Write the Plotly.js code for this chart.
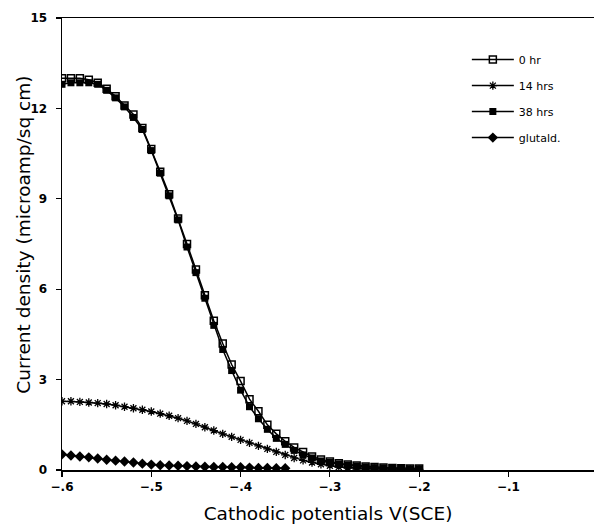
<!DOCTYPE html>
<html>
<head>
<meta charset="utf-8">
<script src="https://cdn.plot.ly/plotly-3.0.1.min.js"></script>
<style>html,body{margin:0;padding:0;background:#fff;}#chart{width:594px;height:525px;}</style>
</head>
<body>
<div id="chart"></div>
<script>
// Cathodic potential grid, V(SCE)
const potentials = [-0.60,-0.59,-0.58,-0.57,-0.56,-0.55,-0.54,-0.53,-0.52,-0.51,
  -0.50,-0.49,-0.48,-0.47,-0.46,-0.45,-0.44,-0.43,-0.42,-0.41,
  -0.40,-0.39,-0.38,-0.37,-0.36,-0.35,-0.34,-0.33,-0.32,-0.31,
  -0.30,-0.29,-0.28,-0.27,-0.26,-0.25,-0.24,-0.23,-0.22,-0.21,-0.20];
const potentialsGlut = [-0.60,-0.59,-0.58,-0.57,-0.56,-0.55,-0.54,-0.53,-0.52,-0.51,
  -0.50,-0.49,-0.48,-0.47,-0.46,-0.45,-0.44,-0.43,-0.42,-0.41,
  -0.40,-0.39,-0.38,-0.37,-0.36,-0.35];

// Current density, microamp/sq cm
const hr0 = [13.0,13.0,13.0,12.95,12.85,12.65,12.4,12.1,11.8,11.35,
  10.65,9.9,9.15,8.35,7.5,6.65,5.8,4.95,4.2,3.5,
  2.95,2.35,1.95,1.5,1.2,0.95,0.75,0.6,0.45,0.35,
  0.28,0.22,0.18,0.15,0.12,0.1,0.08,0.07,0.06,0.05,0.05];
const hrs14 = [2.28,2.28,2.26,2.24,2.22,2.19,2.15,2.1,2.05,2.0,
  1.94,1.87,1.8,1.72,1.63,1.53,1.42,1.31,1.2,1.1,
  1.0,0.9,0.8,0.7,0.6,0.5,0.4,0.32,0.25,0.19,
  0.14,0.1,0.08,0.06,0.05,0.04,0.03,0.03,0.02,0.02,0.02];
const hrs38 = [12.8,12.85,12.85,12.85,12.8,12.6,12.35,12.05,11.7,11.3,
  10.6,9.85,9.1,8.3,7.4,6.55,5.7,4.8,4.0,3.3,
  2.65,2.1,1.7,1.35,1.05,0.85,0.65,0.5,0.4,0.3,
  0.25,0.2,0.16,0.13,0.1,0.08,0.07,0.06,0.05,0.04,0.04];
const glutald = [0.52,0.48,0.45,0.42,0.38,0.34,0.31,0.28,0.25,0.21,
  0.18,0.16,0.15,0.14,0.13,0.12,0.11,0.1,0.1,0.09,
  0.09,0.08,0.07,0.07,0.06,0.06];

const seriesNames = ["0 hr","14 hrs","38 hrs","glutald."];
const xTickVals = [-0.6,-0.5,-0.4,-0.3,-0.2,-0.1];
const xTickText = ["\u2212.6","\u2212.5","\u2212.4","\u2212.3","\u2212.2","\u2212.1"];
const yTickVals = [0,3,6,9,12,15];
const yTitle = "Current density (microamp/sq cm)";
const xTitle = "Cathodic potentials V(SCE)";

const FONT = "DejaVu Sans, Verdana, sans-serif";
const line = {color:"#000", width:1.5};

const traces = [
  {x:potentials, y:hr0, name:seriesNames[0], mode:"lines+markers", legendgroup:"a",
   line:line, marker:{symbol:"square-open", size:7, color:"#000", line:{width:1.5,color:"#000"}}},
  {x:potentials, y:hrs14, name:seriesNames[1], mode:"lines+markers", legendgroup:"b",
   line:line, marker:{symbol:"asterisk-open", size:7, color:"#000", line:{width:1.3,color:"#000"}}},
  {x:potentials, y:hrs38, name:seriesNames[2], mode:"lines+markers", legendgroup:"c",
   line:line, marker:{symbol:"square", size:7, color:"#000"}},
  {x:potentialsGlut, y:glutald, name:seriesNames[3], mode:"lines+markers", legendgroup:"d",
   line:line, marker:{symbol:"diamond", size:8, color:"#000"}}
];

const layout = {
  width:594, height:525,
  margin:{l:62, r:0, t:18, b:55},
  paper_bgcolor:"#fff", plot_bgcolor:"#fff",
  font:{family:FONT, color:"#000", size:12},
  showlegend:true,
  legend:{x:0.761, y:0.94, xanchor:"left", yanchor:"top", bgcolor:"rgba(0,0,0,0)",
    font:{family:FONT, size:11, color:"#000"}, tracegroupgap:7, itemwidth:42},
  xaxis:{range:[-0.6,-0.0042], tickvals:xTickVals, ticktext:xTickText,
    showgrid:false, zeroline:false, showline:true, linecolor:"#000", linewidth:1.5,
    mirror:true, ticks:"outside", ticklen:5, tickcolor:"#000", tickwidth:1.2,
    tickfont:{family:FONT, size:12, color:"#000", weight:"bold"},
    title:{text:xTitle, font:{family:FONT, size:18.5, color:"#000"}, standoff:14}},
  yaxis:{range:[0,15], tickvals:yTickVals,
    showgrid:false, zeroline:false, showline:true, linecolor:"#000", linewidth:1.5,
    ticks:"outside", ticklen:5, tickcolor:"#000", tickwidth:1.2, ticklabelstandoff:6,
    tickfont:{family:FONT, size:12, color:"#000", weight:"bold"}},
  annotations:[{text:yTitle, xref:"paper", yref:"paper", x:-0.072, y:0.52,
    xanchor:"center", yanchor:"middle", textangle:-90, showarrow:false,
    font:{family:FONT, size:18.5, color:"#000"}}]
};

Plotly.newPlot("chart", traces, layout, {displayModeBar:false, staticPlot:true});
</script>
</body>
</html>
